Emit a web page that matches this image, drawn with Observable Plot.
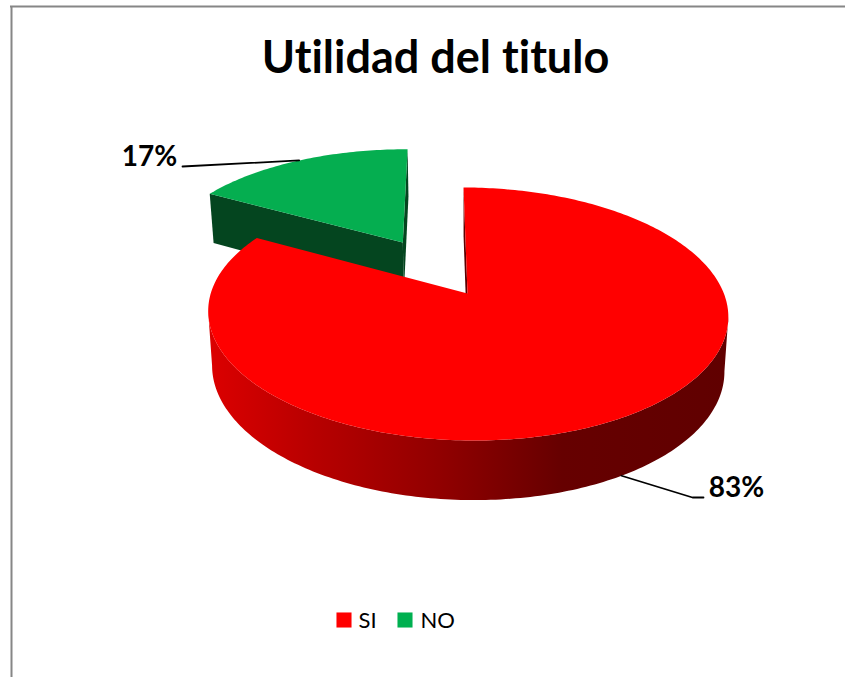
<!DOCTYPE html>
<html><head><meta charset="utf-8">
<script src="https://cdn.jsdelivr.net/npm/d3@7"></script>
<script src="https://cdn.jsdelivr.net/npm/@observablehq/plot@0.6"></script>
<style>html,body{margin:0;padding:0;background:#fff}svg{display:block}text{font-variant-ligatures:none}</style>
</head><body><div id="chart"></div>
<script>
const categories = ["SI", "NO"];
const shares = [83, 17];
const labels = ["83%", "17%"];
const topColors = ["#ff0000", "#05ae50"];
const legendColors = ["#ff0000", "#00b050"];
const titleText = "Utilidad del titulo";

const W = 845, H = 677;
const apexX = 467, apexY = 293, unitX = 256.6, unitY = 123.2;
const persp = 0.162, skew = 0.018, tilt = 0.005;
const explode = 0.515, depth = 53.6;

const toUnitX = p => (p - apexX) / unitX;
const toUnitY = p => (p - apexY) / unitY;

// disc coordinates -> projected 3D-pie coordinates, measured in disc units
function project(X, Y, lower) {
  const s = 1 / (1 - persp * Y);
  const shrink = lower ? 0.985 : 1;
  return {
    x: (X + skew * Y) * s * shrink,
    y: (Y + tilt * X) * s + (lower ? depth * Math.pow(s, 0.6) / unitY : 0)
  };
}
// slices run clockwise from 12 o'clock
const total = d3.sum(shares);
const bounds = d3.cumsum(shares).map(v => v / total * 2 * Math.PI);
const slices = categories.map((c, i) => {
  const a0 = i ? bounds[i - 1] : 0, a1 = bounds[i], mid = (a0 + a1) / 2;
  const off = i ? explode : 0;
  const ox = Math.sin(mid) * off, oy = -Math.cos(mid) * off;
  const rim = (a, lower) => project(ox + Math.sin(a), oy - Math.cos(a), lower);
  const n = Math.ceil((a1 - a0) * 60);
  const angles = d3.range(n + 1).map(k => a0 + (a1 - a0) * k / n);
  const arc = (lower, as = angles) => as.map(a => rim(a, lower));
  const apex = lower => project(ox, oy, lower);
  // the outer wall is only seen between the rim's rightmost and leftmost points
  const right = d3.greatest(angles, a => rim(a, false).x);
  const left = d3.least(angles, a => rim(a, false).x);
  const front = angles.filter(a => a >= Math.min(left, right) && a <= Math.max(left, right));
  return {
    c, i, mid, rim, apex,
    face: [apex(false), ...arc(false)],
    side: [...arc(false, front), ...arc(true, front).reverse()],
    wall0: [apex(false), rim(a0, false), rim(a0, true), apex(true)],
    wall1: [apex(false), rim(a1, false), rim(a1, true), apex(true)]
  };
});
const [si, no] = slices;

const poly = (pts, fill) => Plot.line(pts, {x: "x", y: "y", fill, stroke: "none", curve: "linear-closed"});

const gradient = () => {
  const defs = d3.create("svg:defs");
  const g = defs.append("linearGradient").attr("id", "sideShade");
  [[0, "#dc0000"], [0.2, "#b80000"], [0.45, "#900000"], [0.68, "#660000"], [1, "#600000"]]
    .forEach(([o, c]) => g.append("stop").attr("offset", o).attr("stop-color", c));
  return defs.node();
};

const anchor17 = no.rim(no.mid, false);
const anchor83 = si.rim(si.mid, true);
const leader17 = [{x: toUnitX(182), y: toUnitY(166)}, anchor17];
const leader83 = [anchor83, {x: toUnitX(692), y: toUnitY(497)}, {x: toUnitX(703), y: toUnitY(497)}];

const font = "Lato";
const txt = (t, dx, dy, size, weight, anchor) => Plot.text([t], {
  text: d => d, frameAnchor: "top-left", dx, dy, fontSize: size, fontWeight: weight,
  fontFamily: font, fill: "#000", textAnchor: anchor, lineAnchor: "middle"
});

const plot = Plot.plot({
  width: W, height: H,
  marginTop: 0, marginRight: 0, marginBottom: 0, marginLeft: 0,
  x: {axis: null, domain: [toUnitX(0), toUnitX(W)], range: [0, W]},
  y: {axis: null, domain: [toUnitY(0), toUnitY(H)], range: [0, H]},
  style: {background: "#fff"},
  marks: [
    gradient,
    Plot.ruleX([toUnitX(11)], {stroke: "#868686", strokeWidth: 2, y1: toUnitY(6), y2: toUnitY(H)}),
    Plot.ruleY([toUnitY(6)], {stroke: "#868686", strokeWidth: 2, x1: toUnitX(10), x2: toUnitX(W)}),
    poly(no.wall0, "#04451f"),
    poly(no.wall1, "#04451f"),
    poly(no.face, topColors[1]),
    poly(si.wall0, "#5c0000"),
    poly(si.side, "url(#sideShade)"),
    poly(si.face, topColors[0]),
    Plot.line(leader17, {x: "x", y: "y", stroke: "#000", strokeWidth: 1.8}),
    Plot.line(leader83, {x: "x", y: "y", stroke: "#000", strokeWidth: 1.8}),
    txt(titleText, 435, 58, 45, 700, "middle"),
    txt(labels[1], 149, 157, 28, 700, "middle"),
    txt(labels[0], 736, 488, 28, 700, "middle"),
    Plot.dot([0], {frameAnchor: "top-left", dx: 343.5, dy: 619.5, symbol: "square", r: 8.5, fill: legendColors[0], stroke: "none"}),
    Plot.dot([1], {frameAnchor: "top-left", dx: 404.5, dy: 619.5, symbol: "square", r: 8.5, fill: legendColors[1], stroke: "none"}),
    txt(categories[0], 358, 620, 22, 400, "start"),
    txt(categories[1], 420, 620, 22, 400, "start")
  ]
});
document.getElementById("chart").append(plot);
</script>
</body></html>
